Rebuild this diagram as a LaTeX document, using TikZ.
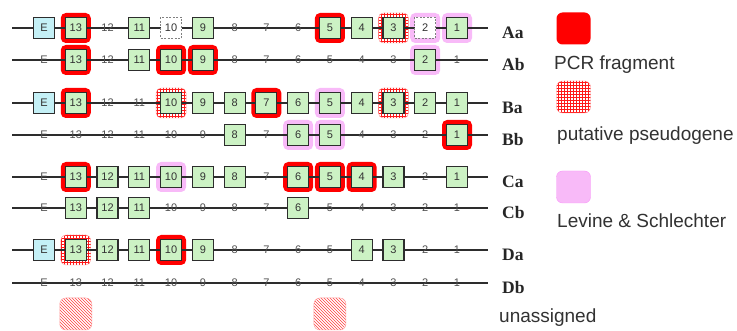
\documentclass[tikz,border=0pt]{standalone}
\usepackage{fontspec}
\setmainfont{Liberation Sans}
\newfontfamily\labfont{Liberation Serif}
\usetikzlibrary{patterns,patterns.meta}
\definecolor{boxgreen}{RGB}{204,242,196}
\definecolor{ecyan}{RGB}{196,240,246}
\definecolor{linegray}{RGB}{45,45,45}
\definecolor{numgray}{RGB}{50,50,50}
\definecolor{offgray}{RGB}{80,80,80}
\definecolor{pinkhl}{RGB}{248,186,248}
\definecolor{legtextc}{RGB}{50,50,50}
\tikzdeclarepattern{
  name=redgrid, type=uncolored,
  bounding box={(0pt,0pt) and (3.4pt,3.4pt)},
  tile size={(3.4pt,3.4pt)},
  code={
    \draw[line width=0.75pt] (0pt,1.7pt) -- (3.4pt,1.7pt);
    \draw[line width=0.75pt] (1.7pt,0pt) -- (1.7pt,3.4pt);
  }
}
\tikzset{
  gbox/.style={draw=linegray, fill=boxgreen, line width=1.1pt, minimum size=21pt, inner sep=0pt,
    font=\fontsize{11}{11}\selectfont, text=numgray},
  ebox/.style={gbox, fill=ecyan},
  dbox/.style={gbox, fill=white, draw=gray, line width=0.9pt, dash pattern=on 2pt off 1.5pt},
  numtext/.style={inner sep=0pt, font=\fontsize{11}{11}\selectfont, text=offgray},
  hlred/.style={fill=red, rounded corners=5pt, minimum size=30pt, inner sep=0pt},
  hlgrid/.style={pattern=redgrid, pattern color=red!90, draw=red!40, line width=0.4pt, rounded corners=5pt, minimum size=30pt, inner sep=0pt},
  hlpink/.style={fill=pinkhl, rounded corners=5pt, minimum size=30pt, inner sep=0pt},
  rowline/.style={draw=linegray, line width=1.1pt},
  rowlab/.style={inner sep=0pt, anchor=west, font=\labfont\bfseries\fontsize{17.5}{17.5}\selectfont, text=black!85},
  legtext/.style={inner sep=0pt, anchor=west, font=\fontsize{19}{19}\selectfont, text=legtextc},
  legsq/.style={minimum width=34pt, minimum height=32pt, inner sep=0pt, rounded corners=6pt},
}
\newcommand\generow[4]{%
  \foreach \i in {0,...,13}{%
    \pgfmathtruncatemacro\hlv{{#4}[\i]}%
    \ifcase\hlv\relax
    \or \node[hlred] (#2h\i) at ({44+31.77*\i},#1) {};
    \or \node[hlgrid] (#2h\i) at ({44+31.77*\i},#1) {};
    \or \node[hlpink] (#2h\i) at ({44+31.77*\i},#1) {};
    \fi
  }
  \coordinate (#2s) at (12,#1);
  \coordinate (#2e) at (488,#1);
  \draw[rowline] (#2s) -- (#2e);
  \foreach \i in {0,...,13}{%
    \pgfmathtruncatemacro\ty{{#3}[\i]}%
    \ifnum\i=0 \def\lab{E}\else\pgfmathtruncatemacro\lab{14-\i}\fi
    \ifcase\ty\relax
      \node[numtext] (#2n\i) at ({44+31.77*\i},#1) {\lab};
    \or \node[gbox] (#2n\i) at ({44+31.77*\i},#1) {\lab};
    \or \node[ebox] (#2n\i) at ({44+31.77*\i},#1) {\lab};
    \or \node[dbox] (#2n\i) at ({44+31.77*\i},#1) {\lab};
    \fi
  }
  \node[rowlab] (#2lab) at (502,#1+4.5) {#2};
}
\begin{document}
\begin{tikzpicture}[x=1pt,y=-1pt]
\useasboundingbox[fill=white] (0,0) rectangle (737,331);
\generow{28}{Aa}{2,1,0,1,3,1,0,0,0,1,1,1,3,1}{0,1,0,0,0,0,0,0,0,1,0,2,3,3}
\generow{60}{Ab}{0,1,0,1,1,1,0,0,0,0,0,0,1,0}{0,1,0,0,1,1,0,0,0,0,0,0,3,0}
\generow{103}{Ba}{2,1,0,0,1,1,1,1,1,1,1,1,1,1}{0,1,0,0,2,0,0,1,0,3,0,2,0,0}
\generow{135}{Bb}{0,0,0,0,0,0,1,0,1,1,0,0,0,1}{0,0,0,0,0,0,0,0,3,3,0,0,0,1}
\generow{177}{Ca}{0,1,1,1,1,1,1,0,1,1,1,1,0,1}{0,1,0,0,3,0,0,0,1,1,1,0,0,0}
\generow{208}{Cb}{0,1,1,1,0,0,0,0,1,0,0,0,0,0}{0,0,0,0,0,0,0,0,0,0,0,0,0,0}
\generow{250}{Da}{2,1,1,1,1,1,0,0,0,0,1,1,0,0}{0,2,0,0,1,0,0,0,0,0,0,0,0,0}
\generow{283}{Db}{0,0,0,0,0,0,0,0,0,0,0,0,0,0}{0,0,0,0,0,0,0,0,0,0,0,0,0,0}
% unassigned boxes
\node[pattern=north west lines, pattern color=red!75, draw=red!35, line width=0.5pt, rounded corners=6pt, minimum size=32pt, inner sep=0pt] (un1) at (75.8,314) {};
\node[pattern=north west lines, pattern color=red!75, draw=red!35, line width=0.5pt, rounded corners=6pt, minimum size=32pt, inner sep=0pt] (un2) at (329.9,314) {};
% legend
\node[legsq, fill=red] (lg1) at (573.5,28.5) {};
\node[legtext] (lt1) at (554,65) {PCR fragment};
\node[legsq, pattern=redgrid, pattern color=red!90, draw=red!40, line width=0.4pt] (lg2) at (573.5,97) {};
\node[legtext] (lt2) at (557,136) {putative pseudogene};
\node[legsq, fill=pinkhl, draw=pinkhl!80!magenta, line width=0.4pt] (lg3) at (573.5,187) {};
\node[legtext] (lt3) at (557,221) {Levine \& Schlechter};
\node[legtext] (lt4) at (499,318) {unassigned};
\end{tikzpicture}
\end{document}
